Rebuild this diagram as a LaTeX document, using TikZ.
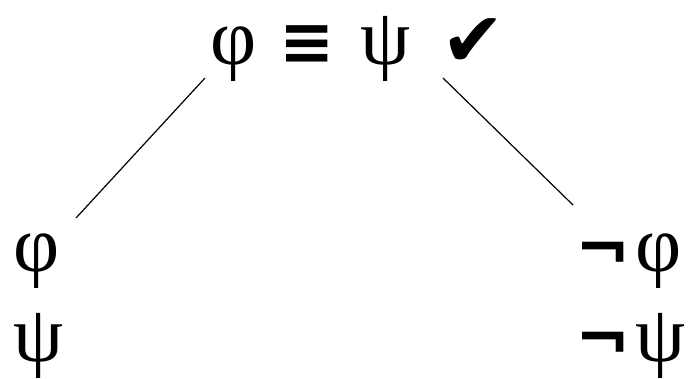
\documentclass[tikz,border=0pt]{standalone}
\usepackage{fontspec}
\setmainfont{Liberation Serif}
\newfontfamily\symf{DejaVu Sans}
\usetikzlibrary{positioning}
\tikzset{
  frm/.style={inner sep=0pt,anchor=base west,font=\fontsize{80}{90}\selectfont},
  edge/.style={line width=1.2pt},
}

\begin{document}
\begin{tikzpicture}[x=1pt,y=1pt]
    \useasboundingbox (0,0) rectangle (688,378);
    % root of the tableau
    \node[frm] (top) at (210,313)
      {φ\hspace{23pt}{\fontsize{66}{90}\selectfont\symf\bfseries ≡}\hspace{26pt}ψ};
    \node[frm,font=\fontsize{76}{90}\selectfont\symf] (chk) at (441,311) {✔};

    % left branch
    \node[frm] (lphi) at (13,107) {φ};
    \node[frm] (lpsi) at (13,17) {ψ};

    % right branch
    \node[frm] (rphi) at (575,107) {{\fontsize{66}{90}\selectfont\symf\bfseries ¬}\hspace{5pt}φ};
    \node[frm] (rpsi) at (575,17) {{\fontsize{66}{90}\selectfont\symf\bfseries ¬}\hspace{5pt}ψ};

    \draw[edge] ([shift={(-5,-13)}]top.base west) -- ([shift={(63,53)}]lphi.base west);
    \draw[edge] ([shift={(2,-11)}]chk.base west) -- ([shift={(-2,66)}]rphi.base west);
\end{tikzpicture}
\end{document}
